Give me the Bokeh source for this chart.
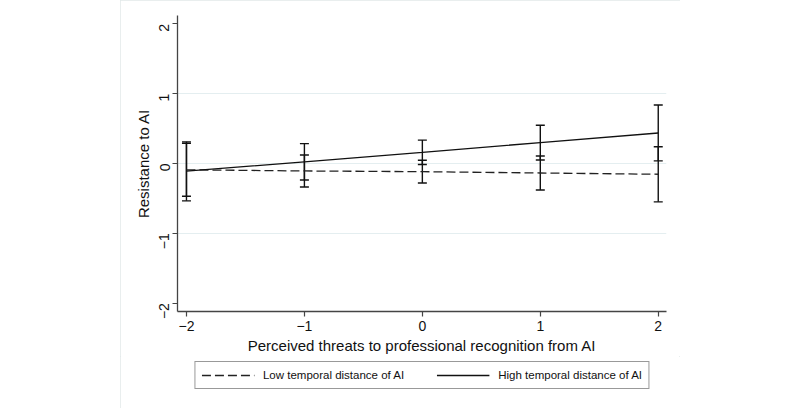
import math
from bokeh.plotting import figure
from bokeh.models import (Whisker, TeeHead, ColumnDataSource, FixedTicker,
                          Legend, LegendItem, Spacer, Range1d)
from bokeh.layouts import row, column
from bokeh.embed import file_html
from bokeh.resources import INLINE

# ---- data ----
x_vals = [-2, -1, 0, 1, 2]
low_mean = [-0.09, -0.107, -0.117, -0.136, -0.154]
low_lower = [-0.47, -0.336, -0.28, -0.38, -0.549]
low_upper = [0.29, 0.122, 0.047, 0.108, 0.241]
high_mean = [-0.11, 0.024, 0.16, 0.30, 0.437]
high_lower = [-0.535, -0.237, -0.014, 0.051, 0.037]
high_upper = [0.31, 0.284, 0.335, 0.548, 0.837]
tick_vals = [-2, -1, 0, 1, 2]
tick_labels = ["\u22122", "\u22121", "0", "1", "2"]
series_names = ["Low temporal distance of AI", "High temporal distance of AI"]
x_title = "Perceived threats to professional recognition from AI"
y_title = "Resistance to AI"

FONT = "Liberation Sans"

low_src = ColumnDataSource(dict(x=x_vals, m=low_mean, lo=low_lower, hi=low_upper))
high_src = ColumnDataSource(dict(x=x_vals, m=high_mean, lo=high_lower, hi=high_upper))

LOW_STYLE = dict(line_color="#222222", line_width=1.3, line_dash="9 4")
HIGH_STYLE = dict(line_color="#111111", line_width=1.3)

# ---- main plot ----
p = figure(width=560, height=356, x_range=(-2.076, 2.07), y_range=(-2.12, 2.12),
           output_backend="svg", toolbar_location=None,
           min_border_left=57, min_border_right=14, min_border_top=15,
           min_border_bottom=42)
p.outline_line_color = None
p.background_fill_color = "white"
p.border_fill_color = "white"

p.line("x", "m", source=low_src, **LOW_STYLE)
p.line("x", "m", source=high_src, **HIGH_STYLE)

for src in (low_src, high_src):
    w = Whisker(source=src, base="x", lower="lo", upper="hi",
                line_color="#111111", line_width=1.4,
                upper_head=TeeHead(size=9, line_color="#111111", line_width=1.4),
                lower_head=TeeHead(size=9, line_color="#111111", line_width=1.4))
    p.add_layout(w)

overrides = {v: t for v, t in zip(tick_vals, tick_labels)}

for ax in (p.xaxis[0], p.yaxis[0]):
    ax.ticker = FixedTicker(ticks=tick_vals)
    ax.major_label_overrides = overrides
    ax.minor_tick_line_color = None
    ax.major_tick_in = 0
    ax.major_tick_out = 5
    ax.axis_line_color = "#444444"
    ax.axis_line_width = 1.3
    ax.major_tick_line_color = "#444444"
    ax.major_tick_line_width = 1.2
    ax.major_label_text_font = FONT
    ax.major_label_text_font_size = "14px"
    ax.major_label_text_color = "#111111"
    ax.axis_label_text_font = FONT
    ax.axis_label_text_font_size = "15px"
    ax.axis_label_text_font_style = "normal"
    ax.axis_label_text_color = "#111111"

p.xaxis.axis_label = x_title
p.xaxis.major_label_standoff = 4
p.xaxis.axis_label_standoff = 3
p.yaxis.axis_label = y_title
p.yaxis.major_label_orientation = math.pi / 2
p.yaxis.major_label_standoff = 8
p.yaxis.axis_label_standoff = 0

p.xgrid.grid_line_color = None
p.ygrid.ticker = FixedTicker(ticks=[-1, 0, 1])
p.ygrid.grid_line_color = "#e4eef0"
p.ygrid.grid_line_width = 1.2

# ---- legend strip (same series, drawn out of view; only the legend shows) ----
q = figure(width=560, height=52, x_range=Range1d(100, 101), y_range=Range1d(100, 101),
           output_backend="svg", toolbar_location=None,
           x_axis_location=None, y_axis_location=None,
           min_border_left=57, min_border_right=14, min_border_top=0,
           min_border_bottom=14)
q.outline_line_color = None
q.grid.visible = False
q.background_fill_color = "white"
q.border_fill_color = "white"
q_low = q.line("x", "m", source=low_src, **LOW_STYLE)
q_high = q.line("x", "m", source=high_src, **HIGH_STYLE)

legend = Legend(items=[LegendItem(label=series_names[0], renderers=[q_low]),
                       LegendItem(label=series_names[1], renderers=[q_high])],
                orientation="horizontal", location="center")
legend.border_line_color = "#333333"
legend.border_line_width = 1.3
legend.padding = 6
legend.spacing = 32
legend.margin = 0
legend.label_standoff = 9
legend.glyph_width = 53
legend.glyph_height = 14
legend.label_height = 14
legend.label_text_font = FONT
legend.label_text_font_size = "11.5px"
legend.label_text_color = "#111111"
legend.background_fill_color = "white"
legend.background_fill_alpha = 1.0
q.add_layout(legend, "center")

chart = column(p, q, spacing=0,
               styles={"outline": "1px solid #e2e9e9", "outline-offset": "-1px"})
layout = row(Spacer(width=120, height=408), chart)

open("out.html", "w").write(file_html(layout, INLINE))
